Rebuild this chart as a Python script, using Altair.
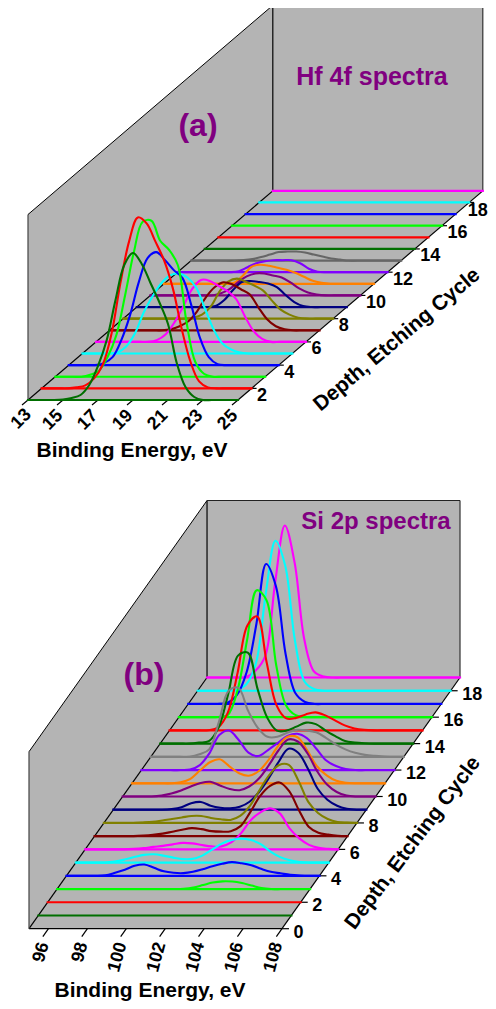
import altair as alt
import pandas as pd

FONT = "Liberation Sans"
GREY = "#b4b4b4"
PURPLE = "#800080"
COLORS_A = ["#006f00", "#ff0000", "#00ff00", "#0000ff", "#00ffff", "#ff00ff", "#800000", "#808000", "#000080",
            "#800080", "#ff8000", "#8000ff", "#666666", "#006f00", "#ff0000", "#00ff00", "#0000ff", "#00ffff", "#ff00ff"]
COLORS_B = COLORS_A[:12] + ["#808080"] + COLORS_A[13:]

# ---- Hf 4f: energies 13..25 eV every 0.5 eV, one list per etching cycle 1..19
ENERGY_A = [13 + 0.5 * i for i in range(25)]
Z = [0] * 25
HF = [
    [0,0,0,0,0.5,2,5,15,34,60,100,135,147,136,117,98,76,37,13,3,0,0,0,0,0],
    [0,0,0,0,1,3,10,24,55,105,147,171,165,147,128,100,60,27,7,1,0,0,0,0,0],
    [0,0,0,0,2,6,20,42,82,125,155,156,136,127,112,55,15,3,0,0,0,0,0,0,0],
    [0,0,0,0,2,8,25,50,83,107,113,105,95,87,60,27,8,1,0,0,0,0,0,0,0],
    [0,0,0,0,1,7,20,41,57,70,78,80,76,66,45,24,10,4,1,0,0,0,0,0,0],
    [0,0,0,0,0,0,0,2,8,20,36,53,62,61,56,51,43,26,11,3,0,0,0,0,0],
    [0,0,0,0,0,0,0,1,4,9,19,33,43,48,46,41,36,23,11,4,1,0,0,0,0],
    [0,0,0,0,0,0,0,0,1,4,12,27,37,40,37,33,28,18,9,4,1,0,0,0,0],
    [0,0,0,0,0,0,0,0,0,1,7,17,25,26,25,23.5,20,12,5,1,0,0,0,0,0],
    [0,0,0,0,0,0,0,0,2,6,13,19,22,22,20,18,13,7,3,1,0,0,0,0,0],
    [0,0,0,0,0,0,0,0,1,8,17,19,18,16,14,11,7,3,1,0,0,0,0,0,0],
    [0,0,0,0,0,0,0,1,5,9,11,12,12,12,9,3.5,0.5,0,0,0,0,0,0,0,0],
    [0,0,0,0,0,0,0.5,1.5,3.5,6,8.5,9,9,8,6,4,2,1,0,0,0,0,0,0,0],
    Z, Z, Z, Z, Z, Z,
]

# ---- Si 2p: energies 95..108 eV every 0.5 eV, one list per etching cycle 1..19
ENERGY_B = [95 + 0.5 * i for i in range(27)]
ZB = [0] * 27
SI = [
    ZB,
    ZB,
    [0,0,0,0,0,0,0,0,0,0,0,0,0,0.3,1.5,4,6.5,7.7,7.5,6,3.5,1,0,0,0,0,0],
    [0,0,0,0,0.5,3,6,10,11.3,8,4.5,3,2.7,4,6.5,9.5,12,13.7,12.5,10.5,7,4,2.5,1,0.3,0,0],
    [0,0,0,0,1,3,5.5,7.7,8.3,7,5,3.5,3.7,7,13,19,22.5,24,22.5,18.5,11,5.5,2.3,0.5,0,0,0],
    [0,0,0,0,0,0.5,1.3,2.5,3.5,5,6.5,6,4.3,3,3,7,16,29,37,41,36,21,11,4.5,1.5,0.5,0],
    [0,0,0,0,0,0.5,1.3,2.5,4.5,6.5,8,7,5,4.5,5,10,24,40,50,53.7,45,26,9.5,3.5,1.5,0.3,0],
    [0,0,0,0,0.5,1.2,2.5,4,5.5,7,7,5,3.7,3,7,17,33,48,58,58,42,21,10,4,1,0.3,0],
    [0,0,0,0,0,0,0.7,2.5,6.5,7.8,4,2,1.5,3,8,18,32,48,61,57,41,21,10,4,1,0,0],
    [0,0,0,0,1,3,6,10,13.5,14.7,11,7.5,6.3,10,18,31,46,57,55,43,25,12,4.5,1,0,0,0],
    [0,0,0,0,0,1,4.5,13,21,24,17,10,7.5,12,23,37,46.5,46,33,17,8,2.5,0.5,0,0,0,0],
    [0,0,0,0,0,0.5,5,17,35,39.5,30,17.5,14,20,27,34,36.3,32,21,9.5,4,1,0,0,0,0,0],
    [0,0,0,0,0,2.5,7.5,35,66,69,46,29,20,20,24,27,26.5,24.5,19,12.5,7.5,4,2,1,0.4,0,0],
    [0,0,0,0,1,2.5,16,50,88,91,55,26,13,13,17,21,19.5,13,7.5,2.5,1,0.3,0,0,0,0,0],
    [0,0,0,0,0.2,3,18,58,105,114,67,25,12,12.5,16,18,15,10,5,2,0.5,0,0,0,0,0,0],
    [0,0,0,0,0.2,2,26,77,127,117,52,12,2,0,0,0,0,0,0,0,0,0,0,0,0,0,0],
    [0,0,0,0,1,9,32,80,140,118,50,11,2,0,0,0,0,0,0,0,0,0,0,0,0,0,0],
    [0,0,0,0,1,6.5,28,97,150,125,50,9,1.5,0,0,0,0,0,0,0,0,0,0,0,0,0,0],
    [0,0,0,0,0.5,7,22,95,152,115,38,6,1,0,0,0,0,0,0,0,0,0,0,0,0,0,0],
]

TICKS_E_A = [13, 15, 17, 19, 21, 23, 25]
TICKS_E_B = [96, 98, 100, 102, 104, 106, 108]
TICKS_D_A = [2, 4, 6, 8, 10, 12, 14, 16, 18]
TICKS_D_B = [0, 2, 4, 6, 8, 10, 12, 14, 16, 18]

PANEL_A = dict(e0=13, e1=25, d0=1, d1=19, left=28, front=400, ex=17.5, dx=13.6, dy=11.62, wall=185.5,
               colors=COLORS_A, energy=ENERGY_A, series=HF, ticks_e=TICKS_E_A, ticks_d=TICKS_D_A,
               etick=(-6, 5), elab=(-3, 13), eangle=315, dtick=5, dlab=(5.5, 7.5), edge_fix={13: (3.5, -1)},
               depth_fix={18: (-7, 1.5)})
PANEL_B = dict(e0=95, e1=108, d0=0, d1=19, left=29, front=928.7, ex=19.46, dx=9.37, dy=13.22, wall=177,
               colors=COLORS_B, energy=ENERGY_B, series=SI, ticks_e=TICKS_E_B, ticks_d=TICKS_D_B,
               etick=(-5.6, 8), elab=(-4.5, 14), eangle=285, dtick=7, dlab=(11.5, 4.2), edge_fix={}, depth_fix={})


def project(p, e, d, h=0):
    x = p["left"] + (e - p["e0"]) * p["ex"] + (d - p["d0"]) * p["dx"]
    y = p["front"] - (d - p["d0"]) * p["dy"] - h
    return x, y


wall_rows, floor_rows, edge_rows, base_rows, curve_rows = [], [], [], [], []


def add_edge(a, b, w=1.2, color="#000000"):
    edge_rows.append(dict(x=a[0], y=a[1], x2=b[0], y2=b[1], w=w, color=color))


for pid, p in (("a", PANEL_A), ("b", PANEL_B)):
    fl = project(p, p["e0"], p["d0"])
    fr = project(p, p["e1"], p["d0"])
    bl = project(p, p["e0"], p["d1"])
    br = project(p, p["e1"], p["d1"])
    H = p["wall"]
    wall_rows += [
        dict(k=pid + "L", x=fl[0], y=fl[1], y2=fl[1] - H),
        dict(k=pid + "L", x=bl[0], y=bl[1], y2=bl[1] - H),
        dict(k=pid + "B", x=bl[0], y=bl[1], y2=bl[1] - H),
        dict(k=pid + "B", x=br[0], y=br[1], y2=br[1] - H),
    ]
    floor_rows += [
        dict(k=pid, y=fl[1], x=fl[0], x2=fr[0]),
        dict(k=pid, y=bl[1], x=bl[0], x2=br[0]),
    ]
    add_edge(fl, fr)
    add_edge(fl, bl)
    add_edge(fr, br)
    add_edge(bl, (bl[0], bl[1] - H))
    add_edge(br, (br[0], br[1] - H), 1.2, "#333333")
    add_edge(fl, (fl[0], fl[1] - H), 1.2, "#444444")
    add_edge((fl[0], fl[1] - H), (bl[0], bl[1] - H), 1)
    add_edge((bl[0], bl[1] - H), (br[0], br[1] - H), 1.2, "#222222")
    for e in p["ticks_e"]:
        t = project(p, e, p["d0"])
        add_edge(t, (t[0] + p["etick"][0], t[1] + p["etick"][1]))
    for d in p["ticks_d"]:
        t = project(p, p["e1"], d)
        add_edge(t, (t[0] + p["dtick"], t[1]))

    key = 0
    for n in range(len(p["series"]) - 1, -1, -1):
        d = n + 1
        color = p["colors"][n]
        key += 1
        for e in (p["e0"], p["e1"]):
            x, y = project(p, e, d)
            base_rows.append(dict(key=f"{pid}{key:02d}", x=x, y=y, color=color))
        vals = p["series"][n]
        if any(vals):
            for e, h in zip(p["energy"], vals):
                x, y = project(p, e, d, h)
                curve_rows.append(dict(key=f"{pid}{key:02d}", x=x, y=y, color=color))

tick_a = []
for p in (PANEL_A, PANEL_B):
    for e in p["ticks_e"]:
        x, y = project(p, e, p["d0"])
        fx, fy = p["edge_fix"].get(e, (0, 0))
        tick_a.append(dict(x=x + p["elab"][0] + fx, y=y + p["elab"][1] + fy, t=str(e), a=p["eangle"]))
tick_d = []
for p in (PANEL_A, PANEL_B):
    for d in p["ticks_d"]:
        x, y = project(p, p["e1"], d)
        fx, fy = p["depth_fix"].get(d, (0, 0))
        tick_d.append(dict(x=x + p["dlab"][0] + fx, y=y + p["dlab"][1] + fy, t=str(d)))

TITLES = [
    ("Binding Energy, eV", 132, 451, 21, 0, "#000000"),
    ("Binding Energy, eV", 150, 991, 21, 0, "#000000"),
    ("Depth, Etching Cycle", 397, 340, 21, 320, "#000000"),
    ("Depth, Etching Cycle", 413, 843, 21, 307, "#000000"),
    ("Hf 4f spectra", 372, 77, 25, 0, PURPLE),
    ("Si 2p spectra", 376, 522, 24, 0, PURPLE),
    ("(a)", 198, 126, 32, 0, PURPLE),
    ("(b)", 144, 675, 32, 0, PURPLE),
]
title_df = pd.DataFrame(TITLES, columns=["t", "x", "y", "s", "a", "color"])

SX = alt.Scale(domain=[8, 488])
SY = alt.Scale(domain=[1001, 8])
X = alt.X("x:Q", scale=SX, axis=None)
Y = alt.Y("y:Q", scale=SY, axis=None)

walls = alt.Chart(pd.DataFrame(wall_rows)).mark_area(color=GREY, opacity=1, orient="vertical").encode(
    x=X, y=Y, y2="y2:Q", detail="k:N")
floors = alt.Chart(pd.DataFrame(floor_rows)).mark_area(color=GREY, opacity=1, orient="horizontal").encode(
    x=X, x2="x2:Q", y=Y, detail="k:N")
edges = alt.Chart(pd.DataFrame(edge_rows)).mark_rule().encode(
    x=X, x2="x2:Q", y=Y, y2="y2:Q",
    color=alt.Color("color:N", scale=None),
    strokeWidth=alt.StrokeWidth("w:Q", scale=None))
bases = alt.Chart(pd.DataFrame(base_rows)).mark_line(strokeWidth=2.2, strokeCap="square").encode(
    x=X, y=Y, color=alt.Color("color:N", scale=None), detail="key:N")
curves = alt.Chart(pd.DataFrame(curve_rows)).mark_line(interpolate="catmull-rom", strokeWidth=2.1).encode(
    x=X, y=Y, color=alt.Color("color:N", scale=None), detail="key:N")
tl_e = alt.Chart(pd.DataFrame(tick_a)).mark_text(font=FONT, fontWeight="bold", fontSize=18, align="right",
                                                 baseline="middle", color="#000000").encode(
    x=X, y=Y, text="t:N", angle=alt.Angle("a:Q", scale=None))
tl_d = alt.Chart(pd.DataFrame(tick_d)).mark_text(font=FONT, fontWeight="bold", fontSize=18, align="left",
                                                 baseline="middle", color="#000000").encode(
    x=X, y=Y, text="t:N")
titles = alt.Chart(title_df).mark_text(font=FONT, fontWeight="bold", align="center", baseline="middle").encode(
    x=X, y=Y, text="t:N",
    size=alt.Size("s:Q", scale=None),
    angle=alt.Angle("a:Q", scale=None),
    color=alt.Color("color:N", scale=None))

chart = alt.layer(walls, floors, edges, bases, curves, tl_e, tl_d, titles).properties(
    width=480, height=993, padding=0, autosize=alt.AutoSizeParams(type="none"),
    background="#ffffff").configure_view(stroke=None)
chart.save("out.html", embed_options={"renderer": "svg", "actions": False})
